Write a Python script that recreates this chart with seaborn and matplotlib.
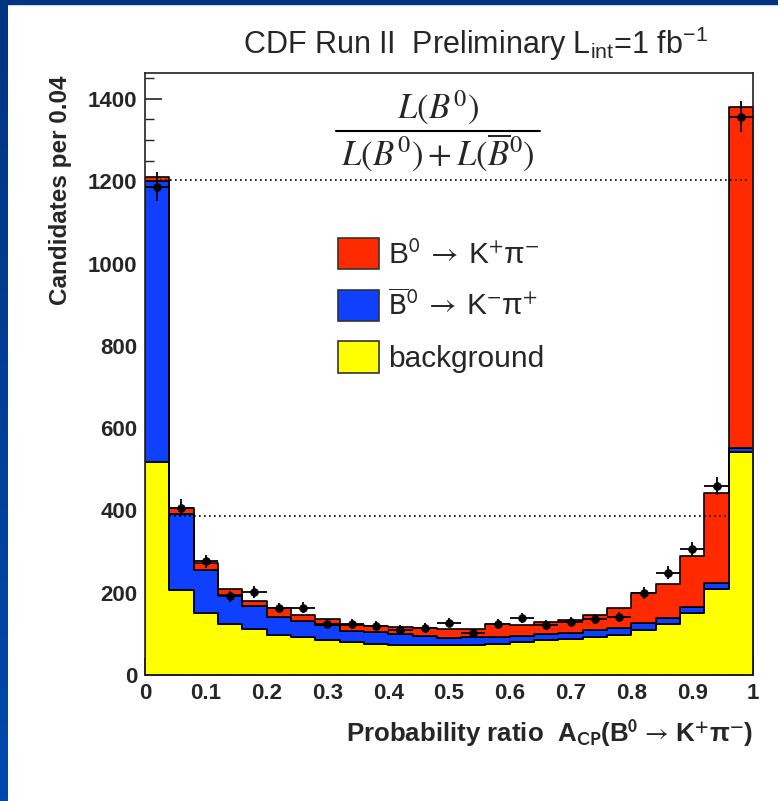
import numpy as np
import pandas as pd
import matplotlib
matplotlib.use("Agg")
import matplotlib.pyplot as plt
import seaborn as sns
from matplotlib.patches import Patch, Rectangle
from matplotlib.lines import Line2D
from matplotlib.colors import LinearSegmentedColormap

# ---------------- data ----------------
bin_centers = [0.02, 0.06, 0.10, 0.14, 0.18, 0.22, 0.26, 0.30, 0.34, 0.38,
               0.42, 0.46, 0.50, 0.54, 0.58, 0.62, 0.66, 0.70, 0.74, 0.78,
               0.82, 0.86, 0.90, 0.94, 0.98]
background = [517, 206, 150, 123, 111, 98, 92, 85, 80, 76, 74, 73, 72,
              74, 76, 79, 84, 87, 93, 98, 110, 124, 150, 210, 543]
b0bar_signal = [683, 186, 105, 72, 56, 44, 40, 36, 27, 29, 26, 22, 18,
                18, 17, 16, 16, 16, 17, 17, 16, 14, 15, 14, 9]
b0_signal = [10, 15, 17, 14, 14, 22, 14, 15, 15, 14, 16, 20, 23,
             19, 31, 26, 28, 31, 36, 47, 73, 83, 124, 219, 828]
data_counts = [1187, 407, 276, 191, 201, 163, 164, 124, 124, 120, 110, 115, 127,
               102, 124, 138, 122, 130, 136, 142, 199, 248, 305, 459, 1357]

component_names = ["B0", "B0bar", "background"]
component_colors = ["#ff2a00", "#1040ff", "#ffff00"]
legend_labels = [r"B$^{0}\;\rightarrow\;$K$^{+}$π$^{-}$",
                 r"$\overline{\mathrm{B}}^{0}\;\rightarrow\;$K$^{-}$π$^{+}$",
                 "background"]

y_ticks = [0, 200, 400, 600, 800, 1000, 1200, 1400]
y_tick_labels = ["0", "200", "400", "600", "800", "1000", "1200", "1400"]
x_ticks = [0, 0.1, 0.2, 0.3, 0.4, 0.5, 0.6, 0.7, 0.8, 0.9, 1.0]
x_tick_labels = ["0", "0.1", "0.2", "0.3", "0.4", "0.5", "0.6", "0.7", "0.8", "0.9", "1"]

ref_levels = [1204, 387]
ref_starts = [0.025, 0.04]
ref_ends = [0.99, 0.958]

title_text = r"CDF Run II  Preliminary L$_{\mathrm{int}}$=1 fb$^{\mathrm{-1}}$"
xlabel_text = r"Probability ratio  A$_{\mathbf{CP}}$(B$^{\mathbf{0}}\,\rightarrow\,$K$^{\mathbf{+}}$π$^{\mathbf{-}}$)"
ylabel_text = "Candidates per 0.04"

# ---------------- style ----------------
sns.set_style("ticks")
plt.rcParams["font.family"] = ["Liberation Sans", "DejaVu Sans"]
plt.rcParams["mathtext.fontset"] = "custom"
plt.rcParams["mathtext.rm"] = "Liberation Sans"
plt.rcParams["mathtext.it"] = "Liberation Sans:italic"
plt.rcParams["mathtext.bf"] = "Liberation Sans:bold"

W, H = 778, 801
fig = plt.figure(figsize=(W / 100, H / 100), dpi=100, facecolor="white")

# blue slide border (left gradient strip + top strip)
ax_bg = fig.add_axes([0, 0, 8 / W, 1])
ax_bg.imshow(np.linspace(0, 1, 200)[:, None], aspect="auto",
             cmap=LinearSegmentedColormap.from_list("slide", ["#003380", "#0049ad"]))
ax_bg.set_axis_off()
fig.add_artist(Rectangle((0, 1 - 4 / H), 1, 4 / H, transform=fig.transFigure,
                         color="#003380", zorder=0))

ax = fig.add_axes([145 / W, 126 / H, 608 / W, 602 / H])

df = pd.DataFrame({
    "x": np.tile(bin_centers, 3),
    "count": np.concatenate([b0_signal, b0bar_signal, background]),
    "component": np.repeat(component_names, len(bin_centers)),
})

sns.histplot(data=df, x="x", weights="count", hue="component",
             hue_order=component_names, multiple="stack",
             bins=25, binrange=(0, 1), element="step", fill=True, alpha=1,
             palette=dict(zip(component_names, component_colors)),
             edgecolor="black", linewidth=1.2, legend=False, ax=ax)

# dotted reference lines
ax.hlines(ref_levels, ref_starts, ref_ends, colors="black",
          linestyles=(0, (1, 2)), linewidth=1.2, zorder=4)

# data points with Poisson errors
ax.errorbar(bin_centers, data_counts, yerr=np.sqrt(data_counts), xerr=0.02,
            fmt="none", ecolor="black", elinewidth=1.3, capsize=0, zorder=5)
sns.scatterplot(x=bin_centers, y=data_counts, color="black", s=32,
                edgecolor="black", zorder=6, ax=ax, legend=False)

ax.set_xlim(0, 1)
ax.set_ylim(0, 1463)
ax.set_xlabel("")
ax.set_ylabel("")

ax.set_yticks(y_ticks, y_tick_labels, fontfamily="Liberation Sans",
              fontweight="bold", fontsize=16)
ax.set_xticks(x_ticks, x_tick_labels, fontfamily="Liberation Sans",
              fontweight="bold", fontsize=16)
ax.set_yticks(np.arange(0, 1463, 50), minor=True)
ax.set_xticks(np.arange(0, 1.001, 0.02), minor=True)
ax.tick_params(which="major", direction="in", length=12, width=1.2, pad=5.5,
               top=False, right=False, color="#222222")
ax.tick_params(which="minor", direction="in", length=6.5, width=1.0,
               top=False, right=False, color="#222222")
for sp in ax.spines.values():
    sp.set_visible(True)
    sp.set_linewidth(1.2)
    sp.set_color("#222222")

# legend
handles = [Patch(facecolor=c, edgecolor="#333333", linewidth=1.2) for c in component_colors]
leg = ax.legend(handles=handles, labels=legend_labels, loc="upper left",
                bbox_to_anchor=(338 / W, 1 - 238 / H), bbox_transform=fig.transFigure,
                frameon=False, fontsize=21.5, handlelength=1.37, handleheight=1.24,
                handletextpad=0.3, labelspacing=0.66, borderpad=0, borderaxespad=0)
for t in leg.get_texts():
    t.set_math_fontfamily("stixsans")

# likelihood-ratio formula
fig.text(438 / W, 1 - 119 / H, r"$L(B^{0})$", math_fontfamily="stix",
         fontsize=25, ha="center", va="baseline")
fig.text(438 / W, 1 - 165 / H, r"$L(B^{0})+L(\overline{B}^{0})$", math_fontfamily="stix",
         fontsize=25, ha="center", va="baseline")
fig.add_artist(Line2D([336 / W, 540 / W], [1 - 130.7 / H] * 2,
                      transform=fig.transFigure, color="black", linewidth=1.5))

# titles / axis labels
fig.text(475 / W, 1 - 54 / H, title_text, ha="center", va="baseline", fontsize=22)
fig.text(60 / W, 1 - 190 / H, ylabel_text, rotation=90, ha="center", va="center",
         fontsize=17.5, fontweight="bold")
fig.text(753 / W, 1 - 742 / H, xlabel_text, ha="right", va="baseline",
         fontsize=18.6, fontweight="bold", math_fontfamily="stixsans")

fig.savefig("out.png", dpi=100, facecolor="white")
